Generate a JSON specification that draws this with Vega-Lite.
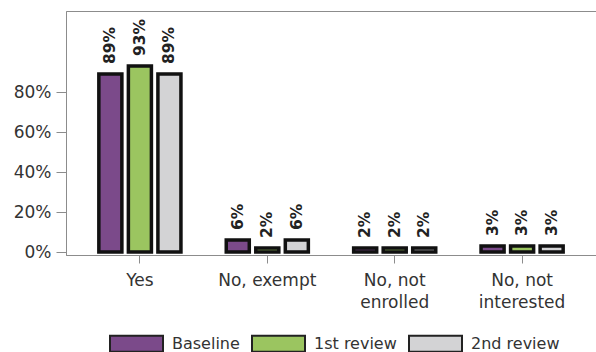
{
  "$schema": "https://vega.github.io/schema/vega-lite/v6.json",
  "width": 530,
  "height": 244,
  "autosize": {"type": "none"},
  "padding": {"left": 66, "top": 11, "right": 0, "bottom": 97},
  "background": "white",
  "config": {
    "font": "DejaVu Sans",
    "view": {"stroke": "#8c8c8c", "strokeWidth": 1},
    "axis": {"grid": false, "domainColor": "#8c8c8c", "tickColor": "#8c8c8c", "labelColor": "#333333", "labelFont": "DejaVu Sans", "labelFontSize": 17}
  },
  "data": {
    "values": [
      {"answer": "Yes", "period": "Baseline", "pct": 0.89},
      {"answer": "Yes", "period": "1st review", "pct": 0.93},
      {"answer": "Yes", "period": "2nd review", "pct": 0.89},
      {"answer": "No, exempt", "period": "Baseline", "pct": 0.06},
      {"answer": "No, exempt", "period": "1st review", "pct": 0.02},
      {"answer": "No, exempt", "period": "2nd review", "pct": 0.06},
      {"answer": "No, not enrolled", "period": "Baseline", "pct": 0.02},
      {"answer": "No, not enrolled", "period": "1st review", "pct": 0.02},
      {"answer": "No, not enrolled", "period": "2nd review", "pct": 0.02},
      {"answer": "No, not interested", "period": "Baseline", "pct": 0.03},
      {"answer": "No, not interested", "period": "1st review", "pct": 0.03},
      {"answer": "No, not interested", "period": "2nd review", "pct": 0.03}
    ]
  },
  "encoding": {
    "x": {
      "field": "answer", "type": "nominal",
      "sort": ["Yes", "No, exempt", "No, not enrolled", "No, not interested"],
      "scale": {"paddingInner": 0.3, "paddingOuter": 0.23},
      "axis": {
        "title": null, "labelAngle": 0, "tickSize": 8, "labelPadding": 9, "labelLineHeight": 22,
        "labelExpr": "datum.label == 'No, not enrolled' ? ['No, not', 'enrolled'] : datum.label == 'No, not interested' ? ['No, not', 'interested'] : datum.label"
      }
    },
    "xOffset": {
      "field": "period", "type": "nominal",
      "sort": ["Baseline", "1st review", "2nd review"],
      "scale": {"paddingInner": 0.22, "paddingOuter": 0.12}
    },
    "y": {
      "field": "pct", "type": "quantitative",
      "scale": {"domain": [-0.015, 1.205], "nice": false, "zero": false},
      "axis": {"title": null, "values": [0, 0.2, 0.4, 0.6, 0.8], "format": ".0%", "tickSize": 10, "labelPadding": 5}
    }
  },
  "layer": [
    {
      "mark": {"type": "bar", "stroke": "#111111", "strokeWidth": 3.5},
      "encoding": {
        "y2": {"datum": 0},
        "color": {
          "field": "period", "type": "nominal",
          "sort": ["Baseline", "1st review", "2nd review"],
          "scale": {"domain": ["Baseline", "1st review", "2nd review"], "range": ["#7b4a8a", "#9bc560", "#d3d3d5"]},
          "legend": {
            "title": null, "orient": "none", "legendX": 43, "legendY": 305, "direction": "horizontal",
            "symbolType": "M-1,-0.3L1,-0.3L1,0.3L-1,0.3Z", "symbolSize": 2809,
            "symbolStrokeColor": "#222222", "symbolStrokeWidth": 2, "symbolOpacity": 1,
            "labelFont": "DejaVu Sans", "labelFontSize": 16, "labelColor": "#333333",
            "labelOffset": 8, "columnPadding": 8, "padding": 0
          }
        }
      }
    },
    {
      "mark": {"type": "text", "angle": 270, "align": "left", "baseline": "middle", "dx": 10, "fontWeight": "bold", "fontSize": 15.5, "color": "#222222"},
      "encoding": {
        "text": {"field": "pct", "type": "quantitative", "format": ".0%"}
      }
    }
  ]
}
